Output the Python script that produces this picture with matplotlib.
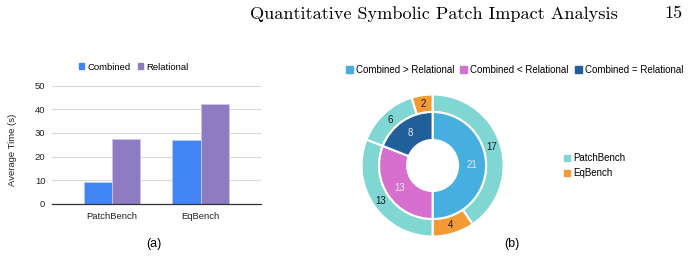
"""Bar chart of average times and a nested donut of result categories."""

import matplotlib.pyplot as plt
from matplotlib.patches import Patch
import numpy as np

plt.rcParams['font.family'] = ['Liberation Sans', 'DejaVu Sans']

# Data for (a)
benchmarks = ['PatchBench', 'EqBench']
combined_time = [9.1, 27.0]
relational_time = [27.4, 42.4]

# Data for (b)
inner_labels = ['Combined > Relational', 'Combined < Relational', 'Combined = Relational']
inner_counts = [21, 13, 8]
outer_sources = ['PatchBench', 'EqBench', 'PatchBench', 'PatchBench', 'EqBench']
outer_counts = [17, 4, 13, 6, 2]

BLUE = '#4285f4'
PURPLE = '#8e7cc3'
INNER_COLORS = ['#47aee0', '#d66fcd', '#215f9a']
SOURCE_COLORS = {'PatchBench': '#7fd6d3', 'EqBench': '#f39a34'}

W, H = 691, 257
fig = plt.figure(figsize=(W / 100, H / 100), dpi=100)


def fx(px):
    return px / W


def fy(py):
    return 1 - py / H


# Page header
fig.text(fx(250), fy(18.5), 'Quantitative Symbolic Patch Impact Analysis',
         family='cmr10', fontsize=13.1, va='baseline', ha='left')
fig.text(fx(682), fy(18.5), '15', family='cmr10', fontsize=13.1,
         va='baseline', ha='right')

# (a) grouped bar chart
ax = fig.add_axes([fx(52.3), fy(203.7), fx(260.7 - 52.3), (203.7 - 85.7) / H])
x = np.arange(len(benchmarks))
bw = 0.32
ax.bar(x - bw / 2, combined_time, bw, color=BLUE, edgecolor='#b9cdf5', linewidth=0.6, zorder=3)
ax.bar(x + bw / 2, relational_time, bw, color=PURPLE, edgecolor='#cdc3e6', linewidth=0.6, zorder=3)
ax.set_xlim(-0.675, 1.68)
ax.set_ylim(0, 50)
ax.set_yticks([0, 10, 20, 30, 40, 50])
ax.set_xticks(x)
ax.set_xticklabels(benchmarks)
ax.tick_params(length=0, labelsize=6.8, colors='#222222')
ax.tick_params(axis='x', pad=6)
ax.tick_params(axis='y', pad=5)
ax.grid(axis='y', color='#d9d9d9', linewidth=0.8, zorder=0)
for side in ['top', 'right', 'left']:
    ax.spines[side].set_visible(False)
ax.spines['bottom'].set_color('#333333')
ax.spines['bottom'].set_linewidth(0.9)
ax.spines['bottom'].set_zorder(4)
ax.set_ylabel('Average Time (s)', fontsize=6.8, color='#222222')
ax.yaxis.set_label_coords(-0.17, 0.46)

bar_handles = [Patch(color=BLUE, label='Combined'), Patch(color=PURPLE, label='Relational')]
fig.legend(handles=bar_handles, loc='center', bbox_to_anchor=(fx(133.5), fy(67.3)),
           ncol=2, frameon=False, fontsize=6.8, handlelength=0.6, handleheight=0.6,
           handletextpad=0.3, columnspacing=0.8)
fig.text(fx(154), fy(244), '(a)', fontsize=9, ha='center', va='center')

# (b) nested donut
cx, cy, half = 432.6, 165.5, 80
ax2 = fig.add_axes([fx(cx - half), fy(cy + half), 2 * half / W, 2 * half / H])
ax2.set_aspect('equal')
r_out, r_mid, r_in = 71, 53.5, 25.5
outer_colors = [SOURCE_COLORS[s] for s in outer_sources]
ax2.pie(outer_counts, radius=r_out, colors=outer_colors, startangle=90, counterclock=False,
        wedgeprops=dict(width=r_out - r_mid, edgecolor='white', linewidth=1.5))
ax2.pie(inner_counts, radius=r_mid, colors=INNER_COLORS, startangle=90, counterclock=False,
        wedgeprops=dict(width=r_mid - r_in, edgecolor='white', linewidth=1.5))
ax2.set_xlim(-half, half)
ax2.set_ylim(-half, half)
ax2.axis('off')


def ring_labels(counts, r, color):
    total = sum(counts)
    start = 0
    for c in counts:
        mid = start + c / 2
        ang = np.deg2rad(90 - 360 * mid / total)
        ax2.text(r * np.cos(ang), r * np.sin(ang), str(c), ha='center', va='center',
                 fontsize=7, color=color)
        start += c


ring_labels(outer_counts, (r_out + r_mid) / 2, '#1a1a1a')
ring_labels(inner_counts, (r_mid + r_in) / 2, '#e8e8e8')

inner_handles = [Patch(color=c, label=l) for c, l in zip(INNER_COLORS, inner_labels)]
fig.legend(handles=inner_handles, loc='center', bbox_to_anchor=(fx(514.5), fy(69.7)),
           ncol=3, frameon=False, fontsize=7, handlelength=0.75, handleheight=0.75,
           handletextpad=0.3, columnspacing=0.6)
src_handles = [Patch(color=SOURCE_COLORS[s], label=s) for s in ['PatchBench', 'EqBench']]
fig.legend(handles=src_handles, loc='center left', bbox_to_anchor=(fx(555), fy(165.7)),
           ncol=1, frameon=False, fontsize=7, handlelength=0.6, handleheight=0.6,
           handletextpad=0.4, labelspacing=0.5)
fig.text(fx(512), fy(244), '(b)', fontsize=9, ha='center', va='center')

fig.savefig('out.png', dpi=100)
